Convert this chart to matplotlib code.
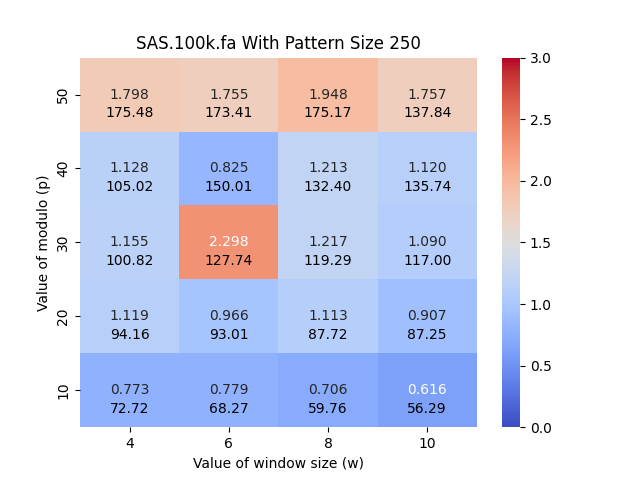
import numpy as np
import pandas as pd
import seaborn as sns
import matplotlib
matplotlib.use('Agg')
import matplotlib.pyplot as plt

window_sizes = [4, 6, 8, 10]
modulos = [50, 40, 30, 20, 10]

# ratio values (colour + top annotation), rows from p=50 down to p=10
ratio = [
    [1.798, 1.755, 1.948, 1.757],
    [1.128, 0.825, 1.213, 1.120],
    [1.155, 2.298, 1.217, 1.090],
    [1.119, 0.966, 1.113, 0.907],
    [0.773, 0.779, 0.706, 0.616],
]

# second line of each cell
times = [
    [175.48, 173.41, 175.17, 137.84],
    [105.02, 150.01, 132.40, 135.74],
    [100.82, 127.74, 119.29, 117.00],
    [94.16, 93.01, 87.72, 87.25],
    [72.72, 68.27, 59.76, 56.29],
]

df = pd.DataFrame(ratio, index=modulos, columns=window_sizes)

fig, ax = plt.subplots(figsize=(6.4, 4.8))
sns.heatmap(df, annot=True, fmt='.3f', cmap='coolwarm', vmin=0, vmax=3, ax=ax)

for i in range(len(modulos)):
    for j in range(len(window_sizes)):
        ax.text(j + 0.5, i + 0.75, '%.2f' % times[i][j],
                ha='center', va='center', color='black', fontsize=10)

ax.set_title('SAS.100k.fa With Pattern Size 250')
ax.set_xlabel('Value of window size (w)')
ax.set_ylabel('Value of modulo (p)')
plt.setp(ax.get_yticklabels(), rotation=90, va='center')

plt.savefig('out.png', dpi=100)
